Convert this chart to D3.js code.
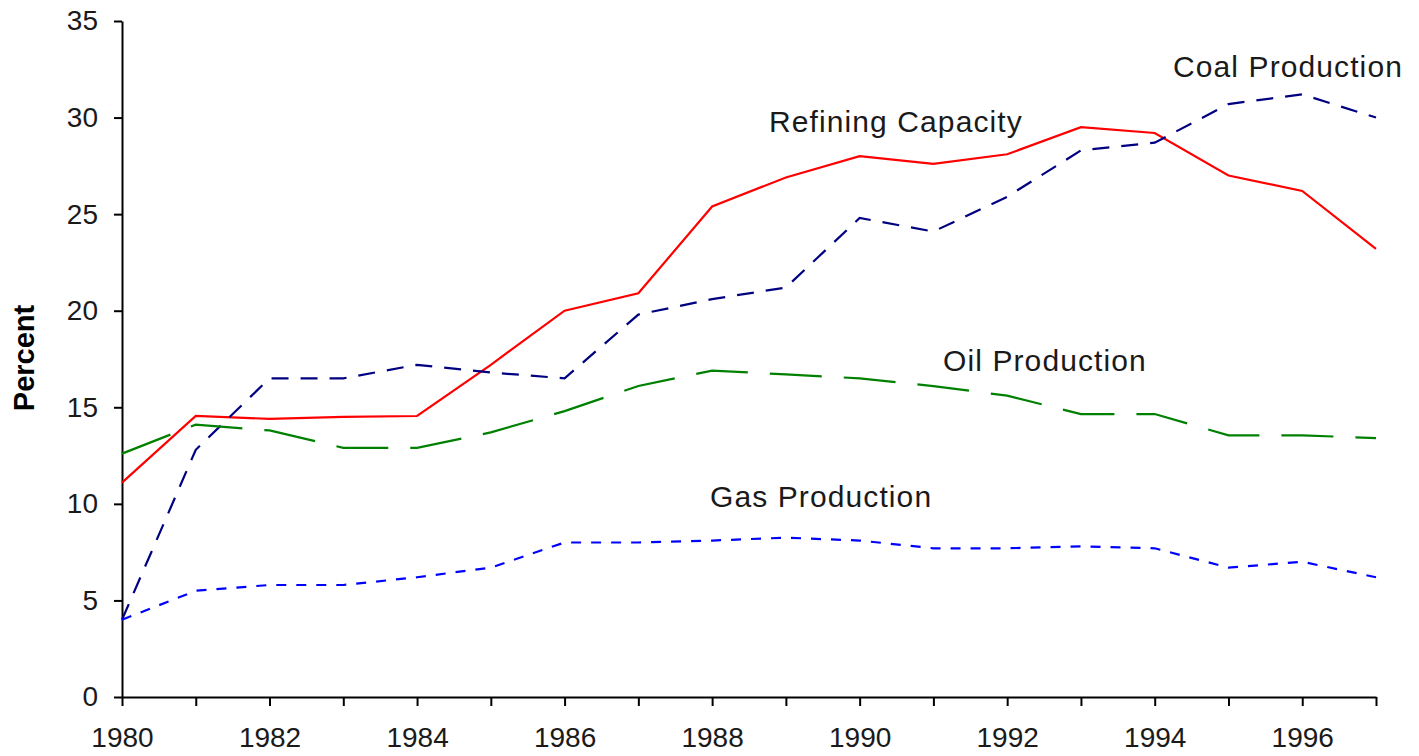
<!DOCTYPE html>
<head>
  <meta charset="utf-8">
</head>
<style>
body {
  margin: 0;
  background: #fff;
}
.axis path, .axis line {
  stroke: #000;
  stroke-width: 2;
}
.axis text {
  font-family: "Liberation Sans", Arial, sans-serif;
  font-size: 28px;
  fill: #1a1a1a;
}
.label {
  font-family: "Liberation Sans", Arial, sans-serif;
  font-size: 30px;
  letter-spacing: 1.1px;
  fill: #1a1a1a;
}
</style>
<body>
<script src="https://d3js.org/d3.v7.min.js"></script>
<script>
var width = 1419,
    height = 756;

// values, percent
var years = [1980, 1981, 1982, 1983, 1984, 1985, 1986, 1987, 1988, 1989, 1990, 1991, 1992, 1993, 1994, 1995, 1996, 1997];
var refining = [11.1, 14.55, 14.4, 14.5, 14.55, 17.2, 20.0, 20.9, 25.4, 26.9, 28.0, 27.6, 28.1, 29.5, 29.2, 27.0, 26.2, 23.2];
var coal = [4.0, 12.8, 16.5, 16.5, 17.2, 16.8, 16.5, 19.8, 20.6, 21.2, 24.8, 24.1, 25.9, 28.3, 28.7, 30.7, 31.2, 30.0];
var oil = [12.6, 14.1, 13.8, 12.9, 12.9, 13.7, 14.8, 16.1, 16.9, 16.7, 16.5, 16.1, 15.6, 14.65, 14.65, 13.55, 13.55, 13.4];
var gas = [4.0, 5.5, 5.8, 5.8, 6.2, 6.7, 8.0, 8.0, 8.1, 8.25, 8.1, 7.7, 7.7, 7.8, 7.7, 6.7, 7.0, 6.2];
var yTicks = [0, 5, 10, 15, 20, 25, 30, 35];

var series = [
  {name: "Refining Capacity", values: refining, color: "#ff0000", dash: null, lx: 769, ly: 132},
  {name: "Coal Production", values: coal, color: "#000080", dash: "17,12", lx: 1173, ly: 77},
  {name: "Oil Production", values: oil, color: "#008000", dash: "52,22", lx: 943, ly: 371},
  {name: "Gas Production", values: gas, color: "#0000ff", dash: "10,10", lx: 710, ly: 507}
];

var x = d3.scaleLinear().domain([1980, 1997]).range([122, 1376]);
var y = d3.scaleLinear().domain([0, 35]).range([697, 21]);

var svg = d3.select("body").append("svg")
  .attr("width", width)
  .attr("height", height);

svg.append("g")
  .attr("class", "axis")
  .attr("transform", "translate(122,0)")
  .call(d3.axisLeft(y).tickValues(yTicks).tickSize(8).tickSizeOuter(0).tickPadding(16));

svg.append("g")
  .attr("class", "axis")
  .attr("transform", "translate(0,697)")
  .call(d3.axisBottom(x).tickValues(years).tickSize(9).tickSizeOuter(0).tickPadding(21)
    .tickFormat(function(d) { return d % 2 == 0 ? d : ""; }));

svg.append("text")
  .attr("transform", "translate(34,358) rotate(-90)")
  .attr("text-anchor", "middle")
  .attr("font-family", "Liberation Sans, Arial, sans-serif")
  .attr("font-size", 29)
  .attr("font-weight", "bold")
  .attr("fill", "#000")
  .text("Percent");

var line = d3.line()
  .x(function(d, i) { return x(years[i]); })
  .y(function(d) { return y(d); });

svg.selectAll(".series")
  .data(series)
  .enter().append("path")
  .attr("class", "series")
  .attr("d", function(d) { return line(d.values); })
  .attr("fill", "none")
  .attr("stroke", function(d) { return d.color; })
  .attr("stroke-width", 2.2)
  .attr("stroke-dasharray", function(d) { return d.dash; });

svg.selectAll(".label")
  .data(series)
  .enter().append("text")
  .attr("class", "label")
  .attr("x", function(d) { return d.lx; })
  .attr("y", function(d) { return d.ly; })
  .text(function(d) { return d.name; });
</script>
</body>
